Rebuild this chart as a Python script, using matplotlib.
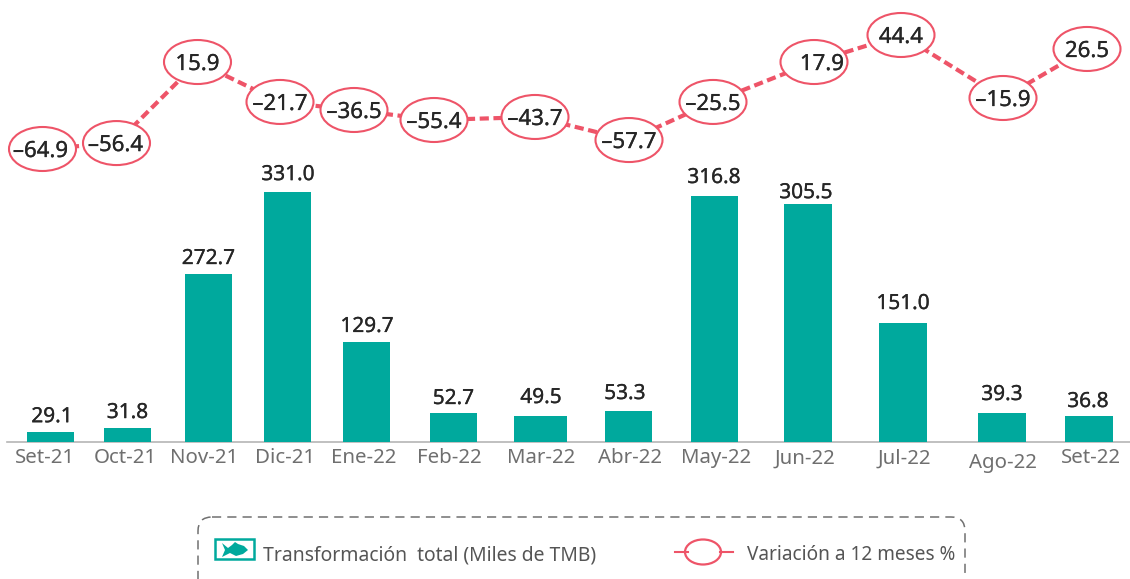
#!/usr/bin/env python3
"""Transformación total de pescado y variación a 12 meses."""

import matplotlib

matplotlib.use("Agg")

import matplotlib.patheffects as pe
import matplotlib.pyplot as plt
from matplotlib.patches import Ellipse, FancyBboxPatch, Polygon, Rectangle

plt.rcParams["font.family"] = ["Noto Sans", "DejaVu Sans"]

# Datos
meses = ["Set-21", "Oct-21", "Nov-21", "Dic-21", "Ene-22", "Feb-22", "Mar-22",
         "Abr-22", "May-22", "Jun-22", "Jul-22", "Ago-22", "Set-22"]
transformacion = ["29.1", "31.8", "272.7", "331.0", "129.7", "52.7", "49.5",
                  "53.3", "316.8", "305.5", "151.0", "39.3", "36.8"]
variacion = ["-64.9", "-56.4", "15.9", "-21.7", "-36.5", "-55.4", "-43.7",
             "-57.7", "-25.5", "17.9", "44.4", "-15.9", "26.5"]

# Alturas tal como estan dibujadas en el original (no siguen del todo las etiquetas)
altura_barras = [13, 18.5, 222.5, 331, 132.5, 38.4, 34.4, 41, 325.8, 315, 157.6, 38.4, 34.4]
altura_linea = [-64.9, -59.2, 18.5, -19.8, -27.5, -37.1, -34.2, -56.3, -19.8, 18.5, 44.4, -16, 31]

# Layout en pixeles
W, H = 1130, 579
x_barras = [50.5, 127.5, 208.5, 287.5, 366.5, 453.5, 540.5, 628.5, 714.5, 808, 903, 1002, 1089]
ancho_barras = [47, 47, 47, 47, 47, 47, 53, 47, 47, 48, 48, 48, 48]
x_ticks = [45, 125, 204, 285, 364, 449, 541, 630, 716, 805, 904, 1003, 1091]
x_linea = [42.5, 116.5, 197.5, 280, 354, 434, 535, 629, 713, 814, 901, 1003, 1087]
dx_label = [1.5, 0, 0, 0.5, 0.5, 0, 0.5, -3.5, -0.5, -2, 0, 0, -1]
dy_label = [6, 6, 6, 8, 6, 5, 9, 8, 9, 2, 10, 9, 5]
dx_elipse = [-2, -1, 0, 0, 0, 0, 0, 0, 0, 8, 0, 0, 0]

VERDE = "#00a99d"
ROJO = "#ee5468"
BASE_PX = 442
ESC_BARRA = 0.755
ESC_LINEA = 1.043
TRAZO = [pe.withStroke(linewidth=0.2, foreground="#262626")]

fig = plt.figure(figsize=(W / 100, H / 100), dpi=100)

# Barras: el eje termina justo en la linea base
ax = fig.add_axes([0, (H - BASE_PX) / H, 1, BASE_PX / H])
ax.bar(x_barras, altura_barras, width=ancho_barras, color=VERDE, zorder=2)
ax.set_xlim(0, W)
ax.set_ylim(0, BASE_PX / ESC_BARRA)
for xb, h, txt, dx, dy in zip(x_barras, altura_barras, transformacion, dx_label, dy_label):
    ax.annotate(txt, (xb, h), xytext=(dx * 0.72, (dy - 1) * 0.72), textcoords="offset points",
                ha="center", va="bottom", fontsize=15, color="#262626", path_effects=TRAZO)
ax.set_xticks(x_ticks, meses, fontsize=14.7, color="#6f6f6f")
ax.tick_params(axis="x", length=0, pad=4.5)
ax.xaxis.get_major_ticks()[11].set_pad(8)
ax.set_yticks([])
for s in ax.spines.values():
    s.set_visible(False)
ax.plot([7, W], [0, 0], color="#b5b5b5", lw=1.2, zorder=1, clip_on=False)
ax.patch.set_alpha(0)

# Linea de variacion
ax2 = fig.add_axes([0, 0, 1, 1])
ax2.patch.set_alpha(0)
ax2.axis("off")
ax2.set_xlim(0, W)
ax2.set_ylim(44.4 - (H - 35) / ESC_LINEA, 44.4 + 35 / ESC_LINEA)
ax2.plot(x_linea, altura_linea, color=ROJO, lw=3, ls=(0, (2.2, 1.1)), zorder=2)
for xl, y, txt, dx in zip(x_linea, altura_linea, variacion, dx_elipse):
    ax2.add_patch(Ellipse((xl, y), 67, 44 / ESC_LINEA, fc="white", ec=ROJO, lw=1.5, zorder=3))
    ax2.text(xl + dx, y, txt.replace("-", "\u2013"), ha="center", va="center_baseline",
             fontsize=16, color="#262626", zorder=4, path_effects=TRAZO)

# Leyenda en pixeles
leg = fig.add_axes([0, 0, 1, 1])
leg.patch.set_alpha(0)
leg.axis("off")
leg.set_xlim(0, W)
leg.set_ylim(H, 0)
leg.add_patch(FancyBboxPatch((198, 517), 767, 80, boxstyle="round,pad=0,rounding_size=14",
                             fc="none", ec="#707070", lw=1.1, ls=(0, (6, 4)),
                             mutation_aspect=1, clip_on=True))
leg.add_patch(Rectangle((215, 539), 39, 20, fc="white", ec=VERDE, lw=1.8))
leg.add_patch(Polygon([(222, 543), (228, 548), (232, 545), (235, 542), (238, 544), (244, 546),
                       (248, 550), (243, 554), (236, 556), (230, 553), (222, 557), (225, 550)],
                      fc=VERDE, ec="none"))
leg.text(263, 553, "Transformación  total (Miles de TMB)", fontsize=13.9, color="#555555",
         ha="left", va="center_baseline")
leg.plot([675, 688], [552, 552], color=ROJO, lw=1.5)
leg.plot([720, 733], [552, 552], color=ROJO, lw=1.5)
leg.add_patch(Ellipse((703, 552), 36, 25, fc="white", ec=ROJO, lw=1.6))
leg.text(747, 553, "Variación a 12 meses %", fontsize=13.7, color="#555555",
         ha="left", va="center_baseline")

fig.savefig("out.png", dpi=100)
